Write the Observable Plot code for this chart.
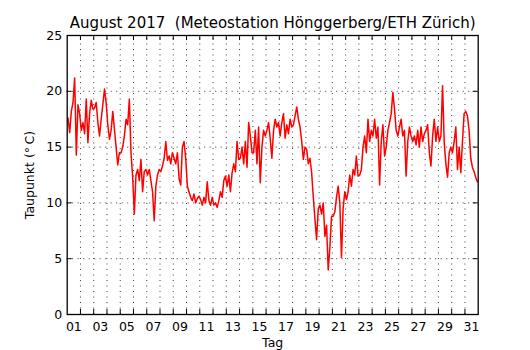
<!DOCTYPE html>
<html><head><meta charset="utf-8">
<script src="https://cdn.jsdelivr.net/npm/d3@7"></script>
<script src="https://cdn.jsdelivr.net/npm/@observablehq/plot@0.6"></script>
<style>body{margin:0;background:#fff} svg{display:block}</style>
</head><body><div id="chart"></div>
<script>
const titleText = "August 2017 \u00A0(Meteostation Hönggerberg/ETH Zürich)";
const yLabel = "Taupunkt (\u00B0\u2009C)";
const xLabel = "Tag";
const yTicks = [0, 5, 10, 15, 20, 25];
const yGrid = [5, 10, 15, 20];
const dayLabelDays = [1, 3, 5, 7, 9, 11, 13, 15, 17, 19, 21, 23, 25, 27, 29, 31];
const dayLabels = ["01","03","05","07","09","11","13","15","17","19","21","23","25","27","29","31"];
const midnights = d3.range(1, 31);
// dew point, 8 readings per day (3-hourly), Aug 1 .. Aug 31
const taupunkt = [
  [17.6, 16.3, 18.2, 19.0, 21.2, 14.3, 18.8, 18.0],
  [16.5, 17.2, 16.2, 19.3, 15.4, 18.0, 19.2, 18.4],
  [18.5, 19.0, 17.2, 16.0, 17.5, 18.8, 20.2, 19.0],
  [17.0, 15.7, 16.5, 18.2, 16.6, 15.0, 13.4, 14.5],
  [14.5, 15.0, 16.0, 17.5, 17.0, 19.3, 14.5, 12.3],
  [9.0, 12.5, 13.0, 12.0, 13.9, 11.0, 12.8, 13.0],
  [12.5, 13.0, 12.0, 11.0, 8.4, 11.5, 12.5, 13.0],
  [12.8, 13.3, 14.0, 15.5, 13.8, 14.2, 13.5, 14.5],
  [14.0, 13.5, 14.5, 12.2, 11.6, 15.0, 15.5, 14.0],
  [11.5, 11.0, 10.5, 10.2, 10.8, 10.0, 10.4, 10.6],
  [10.3, 9.8, 10.5, 10.0, 11.9, 10.2, 9.8, 10.5],
  [9.8, 10.0, 9.6, 10.2, 11.0, 10.5, 12.0, 12.4],
  [11.5, 12.5, 11.0, 12.7, 13.5, 12.8, 15.5, 13.9],
  [14.0, 15.0, 13.5, 15.5, 13.2, 17.2, 16.0, 14.5],
  [14.5, 16.5, 13.5, 16.8, 11.8, 15.0, 16.5, 16.0],
  [16.5, 17.2, 15.8, 14.0, 16.5, 17.5, 16.8, 17.2],
  [16.0, 17.2, 18.0, 15.8, 17.0, 16.2, 17.5, 16.8],
  [17.0, 17.8, 18.6, 17.5, 16.8, 15.5, 13.9, 15.0],
  [14.8, 13.5, 14.0, 12.7, 10.5, 8.5, 6.7, 9.5],
  [9.8, 9.0, 10.0, 7.0, 8.0, 4.0, 6.0, 8.8],
  [8.8, 9.2, 10.5, 11.5, 10.0, 5.1, 9.5, 11.0],
  [10.3, 11.0, 12.5, 11.5, 13.0, 12.5, 14.2, 12.4],
  [12.5, 13.0, 15.0, 16.0, 14.5, 17.5, 15.5, 16.5],
  [16.0, 17.5, 15.8, 16.8, 11.6, 15.5, 17.0, 14.2],
  [15.0, 16.5, 17.2, 18.0, 19.9, 18.4, 16.5, 16.0],
  [16.8, 17.5, 16.0, 16.5, 12.4, 15.5, 16.8, 16.0],
  [15.5, 16.0, 15.2, 16.5, 15.0, 16.8, 15.5, 16.2],
  [16.5, 17.0, 14.5, 13.3, 16.0, 17.5, 15.5, 16.8],
  [15.5, 16.0, 20.5, 15.4, 13.5, 12.3, 14.5, 15.0],
  [14.5, 15.5, 16.8, 13.0, 15.0, 12.7, 15.5, 18.0],
  [18.2, 17.8, 16.5, 14.0, 13.2, 12.8, 12.3, 11.9]
];
const series = taupunkt.flatMap((vals, i) => vals.map((v, k) => ({t: i + (k + 0.5) / vals.length, v})));

const font = "DejaVu Sans, sans-serif";
const tickLenX = 5 / 13.26, tickLenY = 5 / 11.16;
const grid = {stroke: "#000", strokeWidth: 0.9, strokeDasharray: "1,4.5", strokeOpacity: 0.85};

const chart = Plot.plot({
  width: 530, height: 350,
  marginLeft: 66.7, marginRight: 52.3, marginTop: 35, marginBottom: 36,
  style: {fontFamily: font, background: "#fff", overflow: "visible"},
  x: {domain: [0, 31], axis: null},
  y: {domain: [0, 25], axis: null},
  marks: [
    Plot.ruleX(midnights, {x: d => d, y1: 0, y2: 25, ...grid}),
    Plot.ruleY(yGrid, {y: d => d, x1: 0, x2: 31, ...grid}),
    Plot.line(series, {x: "t", y: "v", stroke: "#ff0000", strokeWidth: 1.5}),
    Plot.ruleX(midnights, {x: d => d, y1: 0, y2: tickLenY, stroke: "#000", strokeWidth: 1}),
    Plot.ruleX(midnights, {x: d => d, y1: 25 - tickLenY, y2: 25, stroke: "#000", strokeWidth: 1}),
    Plot.ruleY(yGrid, {y: d => d, x1: 0, x2: tickLenX, stroke: "#000", strokeWidth: 1}),
    Plot.ruleY(yGrid, {y: d => d, x1: 31 - tickLenX, x2: 31, stroke: "#000", strokeWidth: 1}),
    Plot.frame({stroke: "#000", strokeWidth: 1.3}),
    Plot.text(yTicks, {x: 0, y: d => d, text: d => String(d), dx: -5, textAnchor: "end", fontSize: 12.5, fill: "#000"}),
    Plot.text(dayLabelDays, {x: d => d - 0.5, y: 0, text: (d, i) => dayLabels[i], dy: 12, fontSize: 12.5, fill: "#000"}),
    Plot.text([xLabel], {x: 15.5, y: 0, text: d => d, dy: 28, fontSize: 12.5, fill: "#000"}),
    Plot.text([yLabel], {x: 0, y: 12.5, text: d => d, dx: -36.7, rotate: -90, fontSize: 12.5, fill: "#000"}),
    Plot.text([titleText], {x: 15.5, y: 25, text: d => d, dy: -12.5, fontSize: 15, fill: "#000"})
  ]
});
document.getElementById("chart").appendChild(chart);
</script></body></html>
